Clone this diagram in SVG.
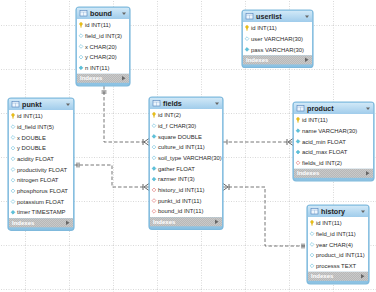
<svg xmlns="http://www.w3.org/2000/svg" xmlns:xlink="http://www.w3.org/1999/xlink" width="376" height="292" viewBox="0 0 376 292">
<style>
.frame{fill:url(#hdr);stroke:#7fb9dc;stroke-width:1.2}
.body{fill:#ffffff}
.foot{fill:url(#hatch)}
.title{font-family:"Liberation Sans",Arial,sans-serif;font-size:7.2px;font-weight:bold;fill:#1e1e1e}
.col{font-family:"Liberation Sans",Arial,sans-serif;font-size:5.9px;fill:#2a2a2a}
.idx{font-family:"Liberation Sans",Arial,sans-serif;font-size:6px;fill:#ffffff;font-weight:bold}
.tri{fill:#666}
.conn{fill:none;stroke:#666;stroke-width:0.9;stroke-dasharray:3.5 2}
.mark{fill:none;stroke:#555;stroke-width:0.9}
</style>
<defs>
<linearGradient id="hdr" x1="0" y1="0" x2="0" y2="1">
<stop offset="0" stop-color="#a9d3ee"/>
<stop offset="1" stop-color="#8cc2e3"/>
</linearGradient>
<linearGradient id="hbar" x1="0" y1="0" x2="0" y2="1">
<stop offset="0" stop-color="#d0e8f7"/>
<stop offset="1" stop-color="#a0cceb"/>
</linearGradient>
<pattern id="hatch" width="2" height="2" patternUnits="userSpaceOnUse">
<rect width="2" height="2" fill="#b8b8b8"/>
<rect width="1" height="1" fill="#c9c9c9"/>
<rect x="1" y="1" width="1" height="1" fill="#c9c9c9"/>
</pattern>
<pattern id="grid" x="25" y="25" width="44" height="44" patternUnits="userSpaceOnUse">
<path d="M0,0.5 H44 M0.5,0 V44" fill="none" stroke="#cfcfcf" stroke-width="0.8" stroke-dasharray="1 1.5"/>
</pattern>
<g id="pk"><circle cx="0" cy="-1" r="1.4" fill="#f2c81a" stroke="#c89a00" stroke-width="0.4"/><rect x="-0.5" y="0" width="1" height="2.6" fill="#e0b000"/></g>
<path id="nul" d="M0,-1.9 L1.9,0 L0,1.9 L-1.9,0Z" fill="#ffffff" stroke="#7cc6de" stroke-width="0.7"/>
<path id="nn" d="M0,-1.9 L1.9,0 L0,1.9 L-1.9,0Z" fill="#5cc2da" stroke="#3ba7c6" stroke-width="0.5"/>
<path id="fk" d="M0,-1.9 L1.9,0 L0,1.9 L-1.9,0Z" fill="#ffffff" stroke="#e07b7b" stroke-width="0.7"/>
<g id="ticon"><rect x="0" y="0" width="7" height="5.5" fill="#eef6fd" stroke="#4f7fb8" stroke-width="0.6"/><path d="M0,1.6 H7 M3.5,1.6 V5.5" stroke="#7ea4d0" stroke-width="0.4"/></g>
</defs>
<rect width="376" height="292" fill="#ffffff"/>
<rect width="376" height="292" fill="url(#grid)"/>

<g id="connectors">
<path class="conn" d="M104,86 V142 H149"/>
<path class="mark" d="M101.5,91 H106.5 M101.5,93 H106.5"/>
<path class="mark" d="M143,139 V145 M144,142 L149,138.5 M144,142 L149,145.5"/>
<path class="conn" d="M74,165 H112 V187 H149"/>
<path class="mark" d="M77,162.5 V167.5 M79,162.5 V167.5"/>
<path class="mark" d="M143,184 V190 M144,187 L149,183.5 M144,187 L149,190.5"/>
<path class="conn" d="M223,142 H293"/>
<path class="mark" d="M227,139.5 V144.5"/>
<path class="mark" d="M287,139 V145 M288,142 L293,138.5 M288,142 L293,145.5"/>
<path class="conn" d="M223,187 H265 V246 H307"/>
<path class="mark" d="M229,184 V190 M228,187 L223,183.5 M228,187 L223,190.5"/>
<path class="mark" d="M302,243.5 V248.5 M304,243.5 V248.5"/>
</g>

<g id="bound">
<rect class="frame" x="76" y="7" width="54" height="78.8" rx="3"/>
<rect x="77" y="8" width="52" height="11" fill="url(#hbar)"/>
<rect class="body" x="77" y="19" width="52" height="54.8"/>
<rect class="foot" x="77" y="73.8" width="52" height="9"/>
<use href="#ticon" x="80" y="10.5"/>
<text class="title" x="90" y="16">bound</text>
<path class="tri" d="M122,12.5 h4 l-2,2.5z"/>
<use href="#pk" x="81" y="25"/><text class="col" x="85" y="27.1">id INT(11)</text>
<use href="#nul" x="81" y="35.7"/><text class="col" x="85" y="37.8">field_id INT(3)</text>
<use href="#nul" x="81" y="46.4"/><text class="col" x="85" y="48.5">x CHAR(20)</text>
<use href="#nul" x="81" y="57.1"/><text class="col" x="85" y="59.2">y CHAR(20)</text>
<use href="#nn" x="81" y="67.8"/><text class="col" x="85" y="69.9">n INT(11)</text>
<text class="idx" x="80" y="80.4">Indexes</text>
<path class="tri" d="M122,76 v4.5 l3.5,-2.25z"/>
</g>

<g id="userlist">
<rect class="frame" x="242" y="10" width="71" height="57.4" rx="3"/>
<rect x="243" y="11" width="69" height="11" fill="url(#hbar)"/>
<rect class="body" x="243" y="22" width="69" height="33.4"/>
<rect class="foot" x="243" y="55.4" width="69" height="9"/>
<use href="#ticon" x="246" y="13.5"/>
<text class="title" x="256" y="19">userlist</text>
<path class="tri" d="M305,15.5 h4 l-2,2.5z"/>
<use href="#pk" x="247" y="28"/><text class="col" x="251" y="30.1">id INT(11)</text>
<use href="#nul" x="247" y="38.7"/><text class="col" x="251" y="40.8">user VARCHAR(30)</text>
<use href="#nn" x="247" y="49.4"/><text class="col" x="251" y="51.5">pass VARCHAR(30)</text>
<text class="idx" x="246" y="62">Indexes</text>
<path class="tri" d="M305,57.6 v4.5 l3.5,-2.25z"/>
</g>

<g id="punkt">
<rect class="frame" x="8" y="98" width="66" height="132.3" rx="3"/>
<rect x="9" y="99" width="64" height="11" fill="url(#hbar)"/>
<rect class="body" x="9" y="110" width="64" height="108.3"/>
<rect class="foot" x="9" y="218.3" width="64" height="9"/>
<use href="#ticon" x="12" y="101.5"/>
<text class="title" x="22" y="107">punkt</text>
<path class="tri" d="M66,103.5 h4 l-2,2.5z"/>
<use href="#pk" x="13" y="116"/><text class="col" x="17" y="118.1">id INT(11)</text>
<use href="#nul" x="13" y="126.7"/><text class="col" x="17" y="128.8">id_field INT(5)</text>
<use href="#nul" x="13" y="137.4"/><text class="col" x="17" y="139.5">x DOUBLE</text>
<use href="#nul" x="13" y="148.1"/><text class="col" x="17" y="150.2">y DOUBLE</text>
<use href="#nul" x="13" y="158.8"/><text class="col" x="17" y="160.9">acidity FLOAT</text>
<use href="#nul" x="13" y="169.5"/><text class="col" x="17" y="171.6">productivity FLOAT</text>
<use href="#nul" x="13" y="180.2"/><text class="col" x="17" y="182.3">nitrogen FLOAT</text>
<use href="#nul" x="13" y="190.9"/><text class="col" x="17" y="193">phosphorus FLOAT</text>
<use href="#nul" x="13" y="201.6"/><text class="col" x="17" y="203.7">potassium FLOAT</text>
<use href="#nn" x="13" y="212.3"/><text class="col" x="17" y="214.4">timer TIMESTAMP</text>
<text class="idx" x="12" y="224.9">Indexes</text>
<path class="tri" d="M66,220.5 v4.5 l3.5,-2.25z"/>
</g>

<g id="fields">
<rect class="frame" x="149" y="97" width="74" height="132.3" rx="3"/>
<rect x="150" y="98" width="72" height="11" fill="url(#hbar)"/>
<rect class="body" x="150" y="109" width="72" height="108.3"/>
<rect class="foot" x="150" y="217.3" width="72" height="9"/>
<use href="#ticon" x="153" y="100.5"/>
<text class="title" x="163" y="106">fields</text>
<path class="tri" d="M215,102.5 h4 l-2,2.5z"/>
<use href="#pk" x="154" y="115"/><text class="col" x="158" y="117.1">id INT(2)</text>
<use href="#nul" x="154" y="125.7"/><text class="col" x="158" y="127.8">id_f CHAR(30)</text>
<use href="#nn" x="154" y="136.4"/><text class="col" x="158" y="138.5">square DOUBLE</text>
<use href="#nul" x="154" y="147.1"/><text class="col" x="158" y="149.2">culture_id INT(11)</text>
<use href="#nul" x="154" y="157.8"/><text class="col" x="158" y="159.9">soil_type VARCHAR(30)</text>
<use href="#nn" x="154" y="168.5"/><text class="col" x="158" y="170.6">gather FLOAT</text>
<use href="#nn" x="154" y="179.2"/><text class="col" x="158" y="181.3">razmer INT(3)</text>
<use href="#fk" x="154" y="189.9"/><text class="col" x="158" y="192">history_id INT(11)</text>
<use href="#fk" x="154" y="200.6"/><text class="col" x="158" y="202.7">punkt_id INT(11)</text>
<use href="#fk" x="154" y="211.3"/><text class="col" x="158" y="213.4">bound_id INT(11)</text>
<text class="idx" x="153" y="223.9">Indexes</text>
<path class="tri" d="M215,219.5 v4.5 l3.5,-2.25z"/>
</g>

<g id="product">
<rect class="frame" x="293" y="102" width="81" height="78.8" rx="3"/>
<rect x="294" y="103" width="79" height="11" fill="url(#hbar)"/>
<rect class="body" x="294" y="114" width="79" height="54.8"/>
<rect class="foot" x="294" y="168.8" width="79" height="9"/>
<use href="#ticon" x="297" y="105.5"/>
<text class="title" x="307" y="111">product</text>
<path class="tri" d="M366,107.5 h4 l-2,2.5z"/>
<use href="#pk" x="298" y="120"/><text class="col" x="302" y="122.1">id INT(11)</text>
<use href="#nn" x="298" y="130.7"/><text class="col" x="302" y="132.8">name VARCHAR(30)</text>
<use href="#nn" x="298" y="141.4"/><text class="col" x="302" y="143.5">acid_min FLOAT</text>
<use href="#nn" x="298" y="152.1"/><text class="col" x="302" y="154.2">acid_max FLOAT</text>
<use href="#fk" x="298" y="162.8"/><text class="col" x="302" y="164.9">fields_id INT(2)</text>
<text class="idx" x="297" y="175.4">Indexes</text>
<path class="tri" d="M366,171 v4.5 l3.5,-2.25z"/>
</g>

<g id="history">
<rect class="frame" x="307" y="205" width="62" height="78.8" rx="3"/>
<rect x="308" y="206" width="60" height="11" fill="url(#hbar)"/>
<rect class="body" x="308" y="217" width="60" height="54.8"/>
<rect class="foot" x="308" y="271.8" width="60" height="9"/>
<use href="#ticon" x="311" y="208.5"/>
<text class="title" x="321" y="214">history</text>
<path class="tri" d="M361,210.5 h4 l-2,2.5z"/>
<use href="#pk" x="312" y="223"/><text class="col" x="316" y="225.1">id INT(11)</text>
<use href="#nul" x="312" y="233.7"/><text class="col" x="316" y="235.8">field_id INT(11)</text>
<use href="#nul" x="312" y="244.4"/><text class="col" x="316" y="246.5">year CHAR(4)</text>
<use href="#nul" x="312" y="255.1"/><text class="col" x="316" y="257.2">product_id INT(11)</text>
<use href="#nul" x="312" y="265.8"/><text class="col" x="316" y="267.9">processs TEXT</text>
<text class="idx" x="311" y="278.4">Indexes</text>
<path class="tri" d="M361,274 v4.5 l3.5,-2.25z"/>
</g>
</svg>
